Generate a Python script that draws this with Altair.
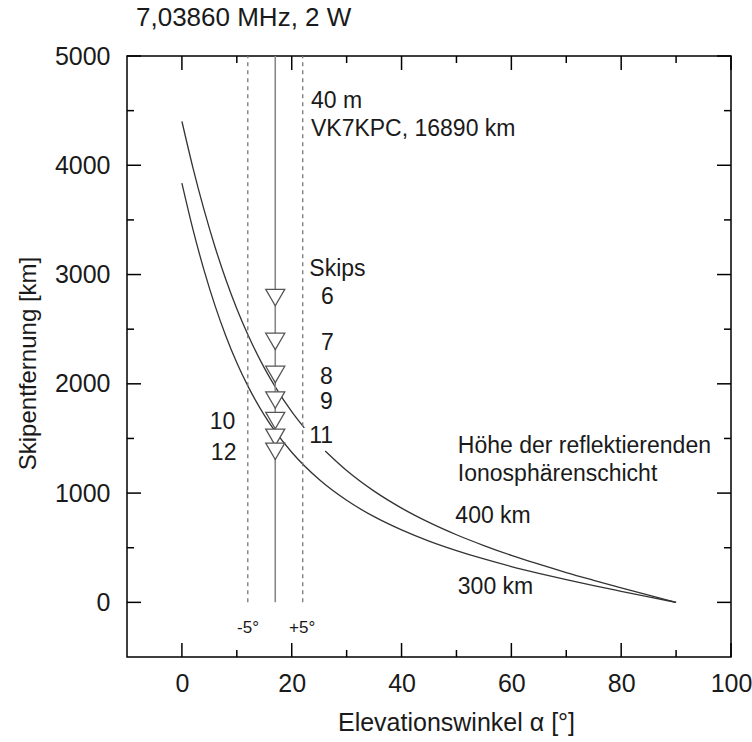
import altair as alt
import pandas as pd

# ---------------- data ----------------
angles_300 = [0, 2, 4, 6, 8, 10, 12, 15, 17, 20, 25, 30, 35, 40, 45, 50, 55, 60, 65, 70, 75, 80, 85, 90]
skip_300 = [3836, 3416, 3045, 2720, 2438, 2193, 1981, 1714, 1564, 1374, 1124, 934, 784, 663, 561, 474,
            397, 328, 266, 208, 153, 101, 50, 0]
angles_400_a = [0, 2, 4, 6, 8, 10, 12, 15, 17, 20, 22.3]
skip_400_a = [4402, 3979, 3598, 3257, 2955, 2687, 2451, 2146, 1972, 1745, 1596]
angles_400_b = [26.1, 30, 35, 40, 45, 50, 55, 60, 65, 70, 75, 80, 85, 90]
skip_400_b = [1386, 1207, 1018, 863, 732, 619, 520, 430, 349, 273, 202, 133, 66, 0]

beam_angle = [17]
window_angles = [12, 22]
skip_counts = [6, 7, 8, 9, 10, 11, 12]
skip_km = [2815, 2413, 2111, 1877, 1689, 1535, 1408]

x_major = [0, 20, 40, 60, 80, 100]
x_minor = [10, 30, 50, 70, 90]
y_major = [0, 1000, 2000, 3000, 4000, 5000]
y_minor = [500, 1500, 2500, 3500, 4500]

left_text = ["40 m", "VK7KPC, 16890 km", "Skips", "Höhe der reflektierenden",
             "Ionosphärenschicht", "400 km", "300 km"]
left_x = [23.5, 23.5, 23.2, 50.25, 50.25, 49.8, 50.25]
left_y = [4526, 4272, 2985, 1369, 1115, 728, 72]

num_text = ["6", "7", "8", "9", "11", "10", "12"]
num_x = [26.5, 26.5, 26.3, 26.3, 25.35, 7.4, 7.6]
num_y = [2726, 2314, 1994, 1765, 1454, 1588, 1307]

deg_text = ["-5°", "+5°"]
deg_x = [12.05, 21.9]
deg_y = [-279, -279]

# ---------------- layout ----------------
W, H = 604, 601
FONT = "Liberation Sans"
TXT = "#1a1a1a"
xs = alt.Scale(domain=[-10, 100], nice=False, zero=False)
ys = alt.Scale(domain=[-500, 5000], nice=False, zero=False)

curves = pd.DataFrame({
    "angle": angles_300 + angles_400_a + angles_400_b,
    "km": skip_300 + skip_400_a + skip_400_b,
    "seg": ["300"] * len(angles_300) + ["400a"] * len(angles_400_a) + ["400b"] * len(angles_400_b),
})

x_axis = alt.Axis(
    values=x_major, format="d", ticks=False, tickSize=0, domain=False, grid=False,
    labelFont=FONT, labelFontSize=25, labelColor=TXT, labelPadding=34,
    labelBaseline="alphabetic", labelFlush=False, labelOverlap=False,
    titleFont=FONT, titleFontSize=25,
    titleFontWeight="normal", titleColor=TXT, titleX=329, titleY=73,
    titleAlign="center", titleBaseline="alphabetic",
)
y_axis = alt.Axis(
    values=y_major, format="d", ticks=False, tickSize=0, domain=False, grid=False,
    labelFont=FONT, labelFontSize=25, labelColor=TXT, labelPadding=17,
    labelBaseline="middle", labelFlush=False, labelOverlap=False,
    titleFont=FONT, titleFontSize=24,
    titleFontWeight="normal", titleColor=TXT, titleX=-92, titleY=307,
    titleAngle=270, titleAlign="center", titleBaseline="alphabetic",
)
X_TITLE = "Elevationswinkel α [°]"
Y_TITLE = "Skipentfernung [km]"


def X(field):
    return alt.X(field, scale=xs, axis=x_axis, title=X_TITLE)


def Y(field):
    return alt.Y(field, scale=ys, axis=y_axis, title=Y_TITLE)


curve_layer = alt.Chart(curves).mark_line(
    color="#333333", strokeWidth=1.3, interpolate="monotone"
).encode(x=X("angle:Q"), y=Y("km:Q"), detail="seg:N")

# vertical guide lines from 0 km to the top of the plot
guides = pd.DataFrame({"a": window_angles + beam_angle,
                       "lo": [0] * 3, "hi": [5000] * 3,
                       "kind": ["window", "window", "beam"]})

dashed = alt.Chart(guides).transform_filter(alt.datum.kind == "window").mark_rule(
    color="#777777", strokeWidth=1.3, strokeDash=[4, 4]
).encode(x=X("a:Q"), y=Y("lo:Q"), y2="hi:Q")

beam = alt.Chart(guides).transform_filter(alt.datum.kind == "beam").mark_rule(
    color="#888888", strokeWidth=1.6
).encode(x=X("a:Q"), y=Y("lo:Q"), y2="hi:Q")

tri_path = "M-1,-0.577L1,-0.577L0,1.155Z"
triangles = alt.Chart(pd.DataFrame({
    "a": beam_angle * len(skip_km), "km": skip_km, "n": skip_counts
})).mark_point(
    shape=tri_path, size=361, fill="white", stroke="#555555", strokeWidth=1.3,
    fillOpacity=1, strokeOpacity=1, opacity=1
).encode(x=X("a:Q"), y=Y("km:Q"))


def xticks(vals, length, side):
    base = alt.Chart(pd.DataFrame({"v": vals})).mark_rule(color="black", strokeWidth=1.5)
    if side == "bottom":
        return base.encode(x=X("v:Q"), y=alt.value(H), y2=alt.value(H - length))
    return base.encode(x=X("v:Q"), y=alt.value(0), y2=alt.value(length))


def yticks(vals, length, side):
    base = alt.Chart(pd.DataFrame({"v": vals})).mark_rule(color="black", strokeWidth=1.5)
    if side == "left":
        return base.encode(y=Y("v:Q"), x=alt.value(0), x2=alt.value(length))
    return base.encode(y=Y("v:Q"), x=alt.value(W), x2=alt.value(W - length))


ticks = [
    xticks(x_major, 14, "bottom"), xticks(x_minor, 7, "bottom"),
    xticks(x_major, 14, "top"), xticks(x_minor, 7, "top"),
    yticks(y_major, 14, "left"), yticks(y_minor, 7, "left"),
    yticks(y_major, 14, "right"), yticks(y_minor, 7, "right"),
]

text_left = alt.Chart(pd.DataFrame({"t": left_text, "x": left_x, "y": left_y})).mark_text(
    align="left", baseline="alphabetic", font=FONT, fontSize=23, color=TXT
).encode(x=X("x:Q"), y=Y("y:Q"), text="t:N")
text_num = alt.Chart(pd.DataFrame({"t": num_text, "x": num_x, "y": num_y})).mark_text(
    align="center", baseline="alphabetic", font=FONT, fontSize=23, color=TXT
).encode(x=X("x:Q"), y=Y("y:Q"), text="t:N")
text_deg = alt.Chart(pd.DataFrame({"t": deg_text, "x": deg_x, "y": deg_y})).mark_text(
    align="center", baseline="alphabetic", font=FONT, fontSize=17, color=TXT
).encode(x=X("x:Q"), y=Y("y:Q"), text="t:N")

chart = alt.layer(
    curve_layer, dashed, beam, triangles, *ticks, text_left, text_num, text_deg
).properties(
    width=W,
    height=H,
    background="white",
    title=alt.TitleParams(
        text="7,03860 MHz, 2 W", anchor="start", frame="group", dx=9, offset=-8,
        baseline="alphabetic", font=FONT, fontSize=26, fontWeight="normal", color=TXT,
    ),
    autosize=alt.AutoSizeParams(type="none"),
    padding={"left": 127, "top": 56, "right": 21, "bottom": 85},
).configure_view(stroke="black", strokeWidth=1.5)

chart.save("out.html", embed_options={"renderer": "svg", "actions": False})
